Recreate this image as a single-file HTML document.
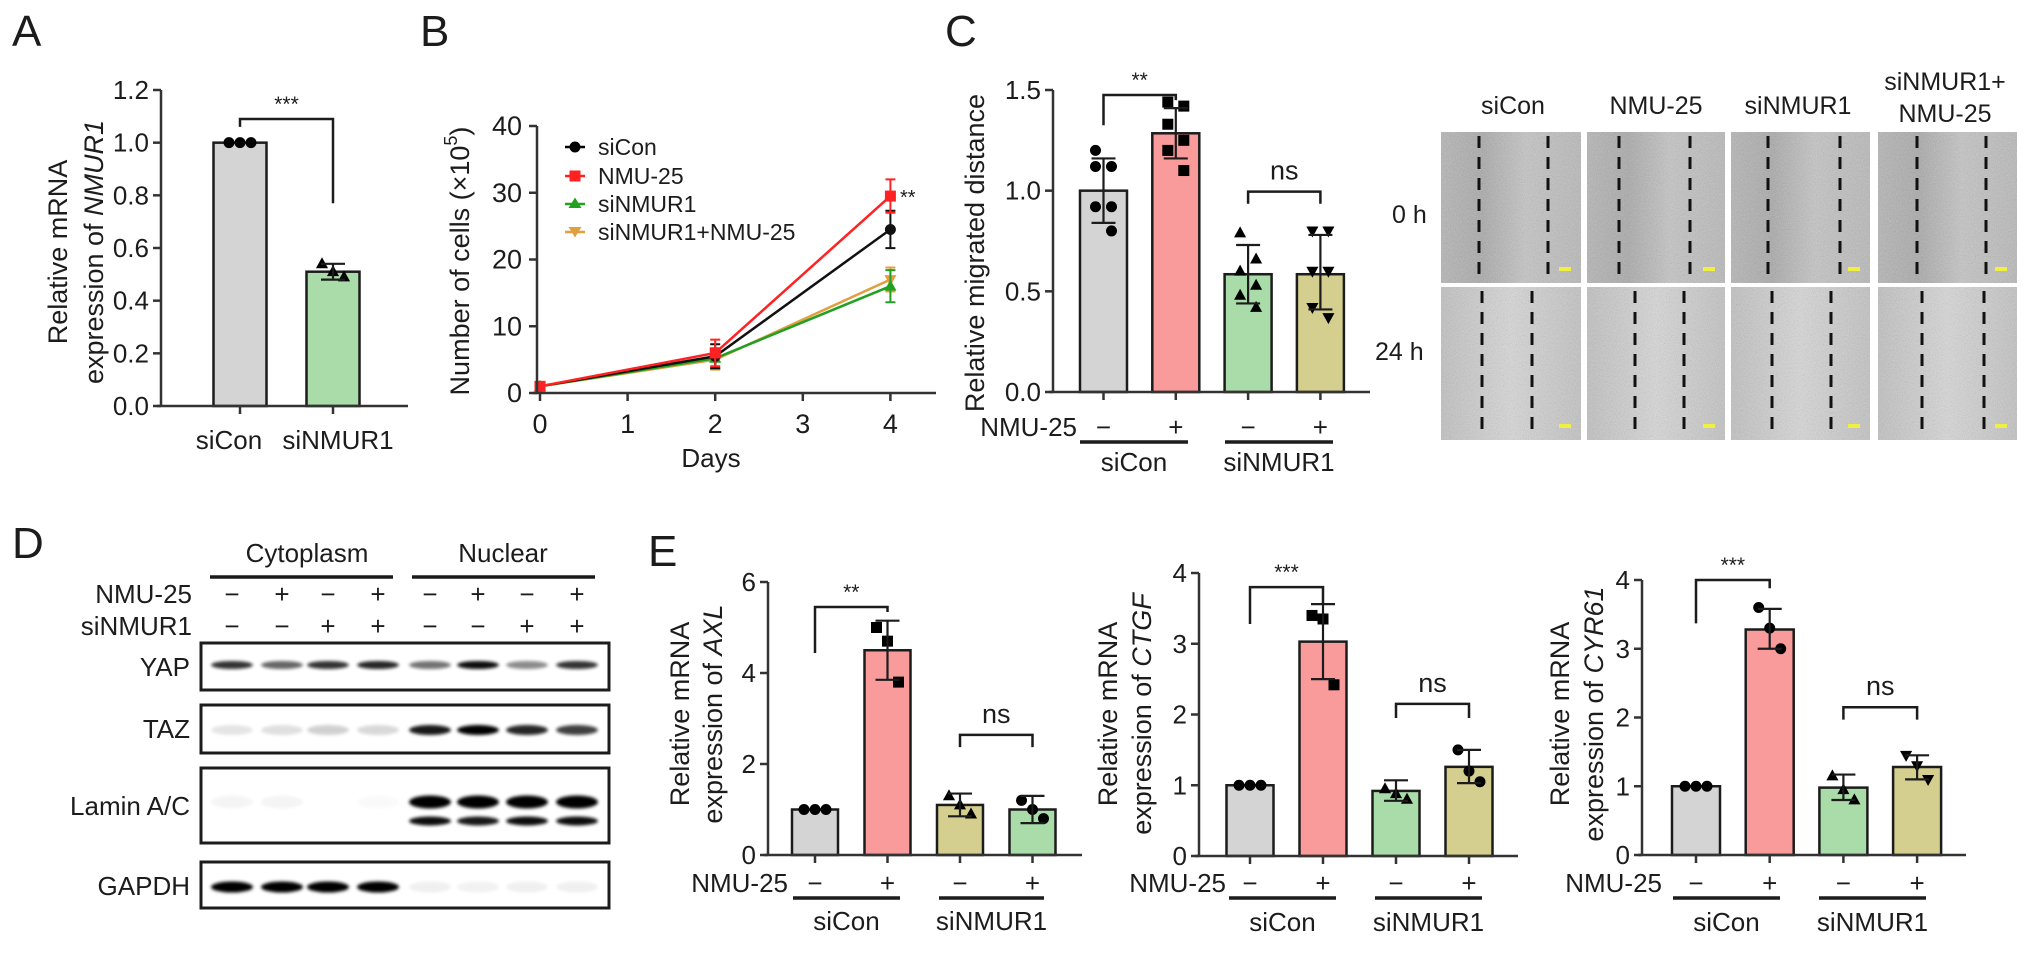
<!DOCTYPE html>
<html><head><meta charset="utf-8">
<style>
html,body{margin:0;padding:0;background:#fff;}
svg{display:block;font-family:"Liberation Sans",Arial,sans-serif;}
text{fill:#1c1c1c;}
</style></head>
<body>
<svg id="fig" width="2032" height="961" viewBox="0 0 2032 961">
<defs>
  <filter id="grain" x="0" y="0" width="100%" height="100%">
    <feTurbulence type="fractalNoise" baseFrequency="0.85" numOctaves="2" seed="4"/>
    <feColorMatrix type="saturate" values="0"/>
    <feComponentTransfer><feFuncA type="linear" slope="0.45"/></feComponentTransfer>
  </filter>
  <filter id="blur" x="-20%" y="-100%" width="140%" height="300%"><feGaussianBlur stdDeviation="1.6"/></filter>
  <linearGradient id="img0" x1="0" x2="1" y1="0" y2="0">
    <stop offset="0" stop-color="#b4b4b4"/><stop offset="0.3" stop-color="#a8a8a8"/><stop offset="0.6" stop-color="#c4c4c4"/><stop offset="1" stop-color="#b8b8b8"/>
  </linearGradient>
  <linearGradient id="img1" x1="0" x2="1" y1="0" y2="0">
    <stop offset="0" stop-color="#c0c0c0"/><stop offset="0.5" stop-color="#d8d8d8"/><stop offset="1" stop-color="#c2c2c2"/>
  </linearGradient>
</defs>

<!-- panel letters -->
<text x="12" y="46" font-size="44">A</text>
<text x="420" y="46" font-size="44">B</text>
<text x="945" y="46" font-size="44">C</text>
<text x="12" y="558" font-size="44">D</text>
<text x="648" y="566" font-size="44">E</text>

<!-- A titles -->
<g>
<text transform="rotate(-90 58 252)" x="58" y="252" font-size="27" text-anchor="middle" dominant-baseline="central">Relative mRNA</text>
<text transform="rotate(-90 94 252)" x="94" y="252" font-size="27" text-anchor="middle" dominant-baseline="central">expression of <tspan font-style="italic">NMUR1</tspan></text>
</g>
<text x="229" y="449" font-size="26" text-anchor="middle">siCon</text>
<text x="338" y="449" font-size="26" text-anchor="middle">siNMUR1</text>

<!-- B titles -->
<text transform="rotate(-90 460 261)" x="460" y="261" font-size="27" text-anchor="middle" dominant-baseline="central">Number of cells (×10<tspan font-size="18" dy="-9">5</tspan><tspan dy="9">)</tspan></text>
<text x="711" y="467" font-size="26" text-anchor="middle">Days</text>
<g>
  <g><line x1="565" y1="147" x2="585" y2="147" stroke="#000" stroke-width="2.5"/><circle cx="575" cy="147" r="5.5" fill="#000"/><text x="598" y="147" font-size="23" dominant-baseline="central">siCon</text></g>
  <g><line x1="565" y1="176" x2="585" y2="176" stroke="#f22" stroke-width="2.5"/><rect x="569.5" y="170.5" width="11" height="11" fill="#f22"/><text x="598" y="176" font-size="23" dominant-baseline="central">NMU-25</text></g>
  <g><line x1="565" y1="204" x2="585" y2="204" stroke="#22a022" stroke-width="2.5"/><path d="M575 197.5 L581.5 208 L568.5 208Z" fill="#22a022"/><text x="598" y="204" font-size="23" dominant-baseline="central">siNMUR1</text></g>
  <g><line x1="565" y1="232" x2="585" y2="232" stroke="#e0a040" stroke-width="2.5"/><path d="M568.5 227 L581.5 227 L575 237.5Z" fill="#e0a040"/><text x="598" y="232" font-size="23" dominant-baseline="central">siNMUR1+NMU-25</text></g>
</g>
<text x="900" y="204" font-size="20">**</text>

<!-- C titles -->
<text transform="rotate(-90 975 253)" x="975" y="253" font-size="27" text-anchor="middle" dominant-baseline="central">Relative migrated distance</text>

<!-- micrograph labels -->
<g font-size="25" text-anchor="middle">
  <text x="1513" y="114">siCon</text>
  <text x="1656" y="114">NMU-25</text>
  <text x="1798" y="114">siNMUR1</text>
  <text x="1945" y="90">siNMUR1+</text>
  <text x="1945" y="122">NMU-25</text>
</g>
<text x="1392" y="215" font-size="25" dominant-baseline="central">0 h</text>
<text x="1375" y="352" font-size="25" dominant-baseline="central">24 h</text>
<g id="micro"></g>

<!-- D western blot -->
<g id="wb">
  <text x="307" y="562" font-size="26" text-anchor="middle">Cytoplasm</text>
  <text x="503" y="562" font-size="26" text-anchor="middle">Nuclear</text>
  <line x1="210" y1="577" x2="393" y2="577" stroke="#1a1a1a" stroke-width="3.5"/>
  <line x1="412" y1="577" x2="595" y2="577" stroke="#1a1a1a" stroke-width="3.5"/>
  <text x="192" y="594" font-size="26" text-anchor="end" dominant-baseline="central">NMU-25</text>
  <text x="192" y="626" font-size="26" text-anchor="end" dominant-baseline="central">siNMUR1</text>
  <text x="190" y="667" font-size="26" text-anchor="end" dominant-baseline="central">YAP</text>
  <text x="190" y="729" font-size="26" text-anchor="end" dominant-baseline="central">TAZ</text>
  <text x="190" y="806" font-size="26" text-anchor="end" dominant-baseline="central">Lamin A/C</text>
  <text x="190" y="886" font-size="26" text-anchor="end" dominant-baseline="central">GAPDH</text>
</g>

<!-- E titles -->
<g>
<text transform="rotate(-90 680 714)" x="680" y="714" font-size="27" text-anchor="middle" dominant-baseline="central">Relative mRNA</text>
<text transform="rotate(-90 713 714)" x="713" y="714" font-size="27" text-anchor="middle" dominant-baseline="central">expression of <tspan font-style="italic">AXL</tspan></text>
</g>
<g>
<text transform="rotate(-90 1108 714)" x="1108" y="714" font-size="27" text-anchor="middle" dominant-baseline="central">Relative mRNA</text>
<text transform="rotate(-90 1142 714)" x="1142" y="714" font-size="27" text-anchor="middle" dominant-baseline="central">expression of <tspan font-style="italic">CTGF</tspan></text>
</g>
<g>
<text transform="rotate(-90 1560 714)" x="1560" y="714" font-size="27" text-anchor="middle" dominant-baseline="central">Relative mRNA</text>
<text transform="rotate(-90 1594 714)" x="1594" y="714" font-size="27" text-anchor="middle" dominant-baseline="central">expression of <tspan font-style="italic">CYR61</tspan></text>
</g>
</svg>

<script>
// ---------- data ----------
const aCategories = ['siCon', 'siNMUR1'];
const aValues = [1.0, 0.51];
const aErrLow = [1.0, 0.48];
const aErrHigh = [1.0, 0.54];
const aPoints = [[1.0, 1.0, 1.0], [0.54, 0.51, 0.49]];
const aTicks = [0, 0.2, 0.4, 0.6, 0.8, 1.0, 1.2];
const aTickLabels = ['0.0', '0.2', '0.4', '0.6', '0.8', '1.0', '1.2'];
const aBrackets = [[0, 1, 1.09, 1.06, 0.77, '***']];

const bDays = [0, 2, 4];
const bSiCon = [1, 5.5, 24.5];
const bSiConErr = [0.5, 1.8, 2.8];
const bNMU = [1, 6, 29.5];
const bNMUErr = [0.5, 2.0, 2.5];
const bSi = [1, 5.2, 16];
const bSiErr = [0.4, 1.5, 2.4];
const bSiNMU = [1, 5.0, 17];
const bSiNMUErr = [0.4, 1.5, 1.8];
const bXTicks = [0, 1, 2, 3, 4];
const bXTickLabels = ['0', '1', '2', '3', '4'];
const bYTicks = [0, 10, 20, 30, 40];
const bYTickLabels = ['0', '10', '20', '30', '40'];

const groupCats = ['siCon', 'NMU-25', 'siNMUR1', 'siNMUR1+NMU-25'];

const cValues = [1.0, 1.285, 0.585, 0.585];
const cErrLow = [0.84, 1.16, 0.44, 0.41];
const cErrHigh = [1.16, 1.41, 0.73, 0.78];
const cPoints = [[1.2, 1.12, 1.12, 0.92, 0.92, 0.8], [1.44, 1.42, 1.33, 1.25, 1.2, 1.1], [0.79, 0.66, 0.6, 0.53, 0.48, 0.42], [0.8, 0.8, 0.6, 0.6, 0.42, 0.37]];
const cTicks = [0, 0.5, 1.0, 1.5];
const cTickLabels = ['0.0', '0.5', '1.0', '1.5'];
const cBrackets = [[0, 1, 1.475, 1.325, 1.45, '**'], [2, 3, 0.995, 0.935, 0.935, 'ns']];

const axlValues = [1.0, 4.5, 1.1, 1.0];
const axlErrLow = [1.0, 3.85, 0.85, 0.7];
const axlErrHigh = [1.0, 5.15, 1.35, 1.3];
const axlPoints = [[1, 1, 1], [5.0, 4.7, 3.8], [1.3, 1.1, 0.9], [1.2, 1.0, 0.8]];
const axlTicks = [0, 2, 4, 6];
const axlTickLabels = ['0', '2', '4', '6'];
const axlBrackets = [[0, 1, 5.45, 4.44, 5.34, '**'], [2, 3, 2.64, 2.37, 2.37, 'ns']];

const ctgfValues = [1.0, 3.03, 0.92, 1.26];
const ctgfErrLow = [1.0, 2.5, 0.78, 1.03];
const ctgfErrHigh = [1.0, 3.56, 1.07, 1.5];
const ctgfPoints = [[1, 1, 1], [3.4, 3.35, 2.42], [0.95, 0.88, 0.8], [1.5, 1.2, 1.05]];
const ctgfTicks = [0, 1, 2, 3, 4];
const ctgfTickLabels = ['0', '1', '2', '3', '4'];
const ctgfBrackets = [[0, 1, 3.8, 3.28, 3.57, '***'], [2, 3, 2.15, 1.95, 1.95, 'ns']];

const cyrValues = [1.0, 3.28, 0.98, 1.28];
const cyrErrLow = [1.0, 3.0, 0.8, 1.1];
const cyrErrHigh = [1.0, 3.58, 1.17, 1.45];
const cyrPoints = [[1, 1, 1], [3.6, 3.3, 3.0], [1.15, 0.95, 0.8], [1.45, 1.3, 1.1]];
const cyrTicks = [0, 1, 2, 3, 4];
const cyrTickLabels = ['0', '1', '2', '3', '4'];
const cyrBrackets = [[0, 1, 4.0, 3.37, 3.88, '***'], [2, 3, 2.15, 1.97, 1.97, 'ns']];

// ---------- helpers ----------
const NS = 'http://www.w3.org/2000/svg';
const svg = document.getElementById('fig');
function mk(parent, tag, attrs, text) {
  const e = document.createElementNS(NS, tag);
  for (const k in attrs) e.setAttribute(k, attrs[k]);
  if (text != null) e.textContent = text;
  parent.appendChild(e);
  return e;
}
function slug(s) { return s.toLowerCase().replace(/[^a-z0-9]+/g, '-'); }
const INK = '#1c1c1c';
const GRAY = '#d4d4d4', RED = '#f99b9b', GREEN = '#a9dca9', KHAKI = '#d5cf8f';

function marker(g, type, cx, cy, r, fill) {
  let m;
  if (type === 'circle') m = mk(g, 'circle', {cx: cx, cy: cy, r: r, fill: fill});
  else if (type === 'square') m = mk(g, 'rect', {x: cx - r, y: cy - r, width: 2 * r, height: 2 * r, fill: fill});
  else if (type === 'tri') m = mk(g, 'path', {d: `M${cx} ${cy - r * 1.2} L${cx + r * 1.1} ${cy + r * 0.8} L${cx - r * 1.1} ${cy + r * 0.8}Z`, fill: fill});
  else m = mk(g, 'path', {d: `M${cx - r * 1.1} ${cy - r * 0.8} L${cx + r * 1.1} ${cy - r * 0.8} L${cx} ${cy + r * 1.2}Z`, fill: fill});
  return m;
}

function barChart(name, cfg, cats, vals, lo, hi, pts, cols, mks, ticks, tickLbls, brackets) {
  const g = mk(svg, 'g', {});
  
  
  const Y = v => cfg.y0 - (cfg.y0 - cfg.yTop) * v / cfg.vTop;
  const X = i => cfg.c0 + i * cfg.step;
  vals.forEach((v, i) => {
    const r = mk(g, 'rect', {x: X(i) - cfg.bw / 2, y: Y(v), width: cfg.bw, height: Y(0) - Y(v), fill: cols[i], stroke: INK, 'stroke-width': 2.5});
    
    
  });
  pts.forEach((arr, i) => {
    const n = arr.length;
    arr.forEach((p, k) => {
      const off = n === 3 ? (k - 1) * 11 : (k % 2 ? 8 : -8);
      const m = marker(g, mks[i], X(i) + off, Y(p), 5.5, '#000');
      
      
    });
  });
  vals.forEach((v, i) => {
    if (hi[i] === lo[i]) return;
    const e = mk(g, 'path', {d: `M${X(i)} ${Y(lo[i])} V${Y(hi[i])} M${X(i) - 12} ${Y(hi[i])} H${X(i) + 12} M${X(i) - 12} ${Y(lo[i])} H${X(i) + 12}`, stroke: INK, 'stroke-width': 2.2, fill: 'none'});
    
    
  });
  const ax = mk(g, 'path', {d: `M${cfg.x0} ${cfg.yTop} V${cfg.y0} M${cfg.x0 - 4} ${cfg.y0} H${cfg.xEnd}`, stroke: '#333', 'stroke-width': 2.5, fill: 'none'});
  
  
  ticks.forEach((t, k) => {
    const tl = mk(g, 'line', {x1: cfg.x0 - 8, x2: cfg.x0, y1: Y(t), y2: Y(t), stroke: '#333', 'stroke-width': 2.5});
    
    
    const tx = mk(g, 'text', {x: cfg.x0 - 12, y: Y(t), 'font-size': 26, 'text-anchor': 'end', 'dominant-baseline': 'central'}, tickLbls[k]);
    
    
  });
  vals.forEach((v, i) => {
    const xt = mk(g, 'line', {x1: X(i), x2: X(i), y1: cfg.y0, y2: cfg.y0 + 8, stroke: '#333', 'stroke-width': 2.5});
    
    
  });
  brackets.forEach(b => {
    const xl = X(b[0]), xr = X(b[1]);
    const p = mk(g, 'path', {d: `M${xl} ${Y(b[3])} V${Y(b[2])} H${xr} V${Y(b[4])}`, stroke: INK, 'stroke-width': 2.5, fill: 'none'});
    
    
    const star = b[5] !== 'ns';
    const t = mk(g, 'text', {x: (xl + xr) / 2, y: Y(b[2]) - (star ? 8 : 12), 'font-size': star ? 21 : 27, 'text-anchor': 'middle', fill: star ? '#555' : INK}, b[5]);
    
    
  });
  return {X: X, Y: Y, g: g};
}

function groupRow(g, X, labelRight, rowY, lineY, lblY, l1, l2) {
  const nl = mk(g, 'text', {x: labelRight, y: rowY, 'font-size': 26, 'text-anchor': 'end', 'dominant-baseline': 'central'}, 'NMU-25');
  
  
  ['−', '+', '−', '+'].forEach((s, i) => {
    const t = mk(g, 'text', {x: X(i), y: rowY, 'font-size': 26, 'text-anchor': 'middle', 'dominant-baseline': 'central'}, s);
    
    
  });
  const gl1 = mk(g, 'line', {x1: l1[0], x2: l1[1], y1: lineY, y2: lineY, stroke: INK, 'stroke-width': 3.5});
  
  
  const gl2 = mk(g, 'line', {x1: l2[0], x2: l2[1], y1: lineY, y2: lineY, stroke: INK, 'stroke-width': 3.5});
  
  
  const t1 = mk(g, 'text', {x: (l1[0] + l1[1]) / 2, y: lblY, 'font-size': 26, 'text-anchor': 'middle', 'dominant-baseline': 'central'}, 'siCon');
  
  
  const t2 = mk(g, 'text', {x: (l2[0] + l2[1]) / 2, y: lblY, 'font-size': 26, 'text-anchor': 'middle', 'dominant-baseline': 'central'}, 'siNMUR1');
  
  
}

// ---------- Panel A ----------
barChart('chart-a', {x0: 161, xEnd: 408, y0: 406, yTop: 90, vTop: 1.2, c0: 240, step: 93, bw: 53},
  aCategories, aValues, aErrLow, aErrHigh, aPoints, [GRAY, GREEN], ['circle', 'tri'], aTicks, aTickLabels, aBrackets);

// ---------- Panel B ----------
(function () {
  const g = mk(svg, 'g', {});
  
  
  const X = d => 540 + d * 87.6;
  const Y = v => 393 - v * 6.675;
  const series = [
    [bSiNMU, bSiNMUErr, '#e0a040', 'tridown', 'siNMUR1+NMU-25'],
    [bSi, bSiErr, '#22a022', 'tri', 'siNMUR1'],
    [bSiCon, bSiConErr, '#111', 'circle', 'siCon'],
    [bNMU, bNMUErr, '#f22', 'square', 'NMU-25']
  ];
  series.forEach(s => {
    const vals = s[0], errs = s[1], col = s[2];
    const d = vals.map((v, i) => (i ? 'L' : 'M') + X(bDays[i]) + ' ' + Y(v)).join(' ');
    const ln = mk(g, 'path', {d: d, stroke: col, 'stroke-width': 2.5, fill: 'none'});
    
    
    vals.forEach((v, i) => {
      const x = X(bDays[i]);
      const e = mk(g, 'path', {d: `M${x} ${Y(v - errs[i])} V${Y(v + errs[i])} M${x - 5} ${Y(v + errs[i])} H${x + 5} M${x - 5} ${Y(v - errs[i])} H${x + 5}`, stroke: col, 'stroke-width': 2, fill: 'none'});
      
      
      const m = marker(g, s[3], x, Y(v), 5.5, col);
      
      
    });
  });
  const ax = mk(g, 'path', {d: `M537 126 V393 M533 393 H936`, stroke: '#333', 'stroke-width': 2.5, fill: 'none'});
  
  
  bYTicks.forEach((t, k) => {
    const tl = mk(g, 'line', {x1: 529, x2: 537, y1: Y(t), y2: Y(t), stroke: '#333', 'stroke-width': 2.5});
    
    
    const tx = mk(g, 'text', {x: 522, y: Y(t), 'font-size': 27, 'text-anchor': 'end', 'dominant-baseline': 'central'}, bYTickLabels[k]);
    
    
  });
  bXTicks.forEach((t, k) => {
    const tl = mk(g, 'line', {x1: X(t), x2: X(t), y1: 393, y2: 401, stroke: '#333', 'stroke-width': 2.5});
    
    
    const tx = mk(g, 'text', {x: X(t), y: 424, 'font-size': 27, 'text-anchor': 'middle', 'dominant-baseline': 'central'}, bXTickLabels[k]);
    
    
  });
})();

// ---------- Panel C ----------
(function () {
  const c = barChart('chart-c', {x0: 1053, xEnd: 1370, y0: 392, yTop: 90, vTop: 1.5, c0: 1103.5, step: 72.3, bw: 47},
    groupCats, cValues, cErrLow, cErrHigh, cPoints, [GRAY, RED, GREEN, KHAKI], ['circle', 'square', 'tri', 'tridown'], cTicks, cTickLabels, cBrackets);
  groupRow(c.g, c.X, 1077, 427, 442, 462, [1080, 1188], [1225, 1333]);
})();

// ---------- Panel E ----------
(function () {
  const e1 = barChart('chart-e-axl', {x0: 768, xEnd: 1082, y0: 855, yTop: 582, vTop: 6, c0: 815, step: 72.5, bw: 46},
    groupCats, axlValues, axlErrLow, axlErrHigh, axlPoints, [GRAY, RED, KHAKI, GREEN], ['circle', 'square', 'tri', 'circle'], axlTicks, axlTickLabels, axlBrackets);
  groupRow(e1.g, e1.X, 788, 883, 898, 921, [793, 900], [939, 1044]);
  const e2 = barChart('chart-e-ctgf', {x0: 1199, xEnd: 1518, y0: 856, yTop: 573, vTop: 4, c0: 1250, step: 73, bw: 47},
    groupCats, ctgfValues, ctgfErrLow, ctgfErrHigh, ctgfPoints, [GRAY, RED, GREEN, KHAKI], ['circle', 'square', 'tri', 'circle'], ctgfTicks, ctgfTickLabels, ctgfBrackets);
  groupRow(e2.g, e2.X, 1226, 883, 898, 922, [1229, 1336], [1375, 1482]);
  const e3 = barChart('chart-e-cyr61', {x0: 1642, xEnd: 1966, y0: 855, yTop: 580, vTop: 4, c0: 1696, step: 73.7, bw: 48},
    groupCats, cyrValues, cyrErrLow, cyrErrHigh, cyrPoints, [GRAY, RED, GREEN, KHAKI], ['circle', 'circle', 'tri', 'tridown'], cyrTicks, cyrTickLabels, cyrBrackets);
  groupRow(e3.g, e3.X, 1662, 883, 898, 922, [1673, 1780], [1819, 1926]);
})();

// ---------- Panel D: western blot ----------
(function () {
  const wb = document.getElementById('wb');
  const lanes = [232, 282, 328, 378, 430, 478, 527, 577];
  const nmu = ['−', '+', '−', '+', '−', '+', '−', '+'];
  const si = ['−', '−', '+', '+', '−', '−', '+', '+'];
  lanes.forEach((x, i) => {
    const a = mk(wb, 'text', {x: x, y: 594, 'font-size': 26, 'text-anchor': 'middle', 'dominant-baseline': 'central'}, nmu[i]);
    
    
    const b = mk(wb, 'text', {x: x, y: 626, 'font-size': 26, 'text-anchor': 'middle', 'dominant-baseline': 'central'}, si[i]);
    
    
  });
  const boxes = [['yap', 643, 690], ['taz', 705, 753], ['lamin', 768, 843], ['gapdh', 862, 908]];
  boxes.forEach(bx => {
    const r = mk(wb, 'rect', {x: 201, y: bx[1], width: 408, height: bx[2] - bx[1], fill: '#fff', stroke: INK, 'stroke-width': 3});
    
    
  });
  // band intensities (opacity) per lane
  const bands = [
    ['yap', 665, 6, [0.8, 0.6, 0.8, 0.85, 0.55, 0.95, 0.45, 0.8]],
    ['taz', 730, 8, [0.1, 0.12, 0.18, 0.15, 0.9, 1.0, 0.85, 0.75]],
    ['lamin-upper', 802, 11, [0.04, 0.04, 0, 0.02, 1, 1, 1, 1]],
    ['lamin-lower', 821, 7, [0, 0, 0, 0, 0.95, 0.9, 0.95, 0.95]],
    ['gapdh', 887, 9, [1, 1, 1, 1, 0.06, 0.05, 0.06, 0.06]]
  ];
  bands.forEach(b => {
    lanes.forEach((x, i) => {
      if (b[3][i] <= 0) return;
      const e = mk(wb, 'ellipse', {cx: x, cy: b[1], rx: 21, ry: b[2] / 2 + 1, fill: '#000', opacity: b[3][i], filter: 'url(#blur)'});
      
      
    });
  });
})();

// ---------- Panel C: micrographs ----------
(function () {
  const g = document.getElementById('micro');
  const cols = [[1441, 1581], [1587, 1725], [1731, 1870], [1878, 2017]];
  const rows = [[132, 283], [287, 440]];
  const dashes = [
    [[1479, 1548], [1619, 1690], [1768, 1840], [1917, 1986]],
    [[1482, 1532], [1635, 1684], [1772, 1831], [1922, 1984]]
  ];
  rows.forEach((r, ri) => {
    cols.forEach((c, ci) => {
      const bg = mk(g, 'rect', {x: c[0], y: r[0], width: c[1] - c[0], height: r[1] - r[0], fill: ri ? 'url(#img1)' : 'url(#img0)'});
      
      
      const gr = mk(g, 'rect', {x: c[0], y: r[0], width: c[1] - c[0], height: r[1] - r[0], filter: 'url(#grain)'});
      
      
      dashes[ri][ci].forEach(x => {
        const l = mk(g, 'line', {x1: x, x2: x, y1: r[0] + 4, y2: r[1] - 2, stroke: '#111', 'stroke-width': 3, 'stroke-dasharray': '12 9'});
        
        
      });
      const sb = mk(g, 'rect', {x: c[1] - 22, y: r[1] - 16, width: 12, height: 4, fill: '#f0f040'});
      
      
    });
  });
})();
</script>
</body></html>
